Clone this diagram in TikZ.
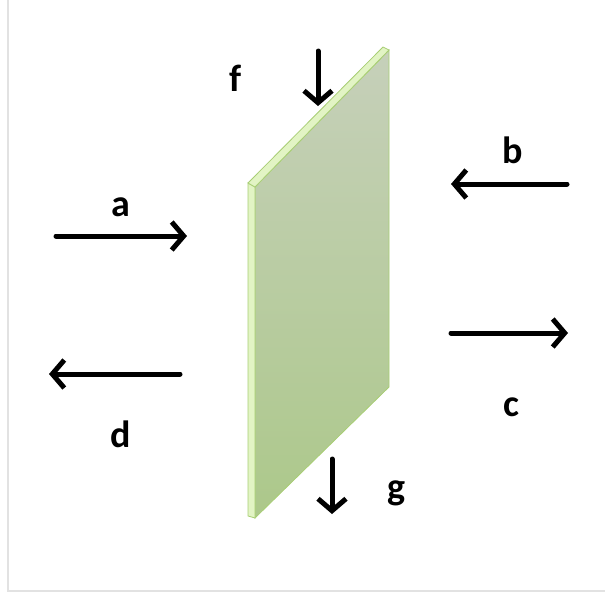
\documentclass[tikz,border=0pt]{standalone}
\usepackage{fontspec}
\setmainfont{Carlito}
\usetikzlibrary{arrows.meta}
\definecolor{PlateTop}{RGB}{198,208,186}
\definecolor{PlateBot}{RGB}{172,200,138}
\definecolor{PlateEdge}{RGB}{226,244,196}
\definecolor{PlateLine}{RGB}{168,206,116}
\definecolor{FrameGray}{RGB}{226,226,226}

\begin{document}
\begin{tikzpicture}[x=1pt,y=-1pt,>={Straight Barb[length=12pt,width=28pt,line width=5pt]}]
        \tikzset{flux/.style={->,line width=5pt,line cap=round,black},
          lbl/.style={font=\fontsize{38}{42}\selectfont\bfseries,inner sep=0pt}}
        \useasboundingbox (0,0) rectangle (605,595);
        \draw[FrameGray,line width=1.2pt] (8,0) -- (8,591) -- (605,591);
        % plate
        \shade[top color=PlateTop,bottom color=PlateBot,draw=PlateLine,line width=0.8pt]
          (255,187) -- (389,50) -- (389,387) -- (255,518) -- cycle;
        \filldraw[fill=PlateEdge,draw=PlateLine,line width=0.8pt]
          (248,183) -- (255,187) -- (255,518) -- (248,516) -- cycle;
        \filldraw[fill=PlateEdge,draw=PlateLine,line width=0.8pt]
          (248,183) -- (383,47) -- (389,50) -- (255,187) -- cycle;
        % ends of the arrows
        \coordinate (a1) at (56,236);  \coordinate (a2) at (187,236);
        \coordinate (b1) at (567,184); \coordinate (b2) at (451,184);
        \coordinate (c1) at (451,333); \coordinate (c2) at (568,333);
        \coordinate (d1) at (180,374); \coordinate (d2) at (49,374);
        \coordinate (f1) at (318,51);  \coordinate (f2) at (318,106);
        \coordinate (g1) at (332,459); \coordinate (g2) at (332,514);
        \draw[flux] (a1) -- (a2);
        \draw[flux] (b1) -- (b2);
        \draw[flux] (c1) -- (c2);
        \draw[flux] (d1) -- (d2);
        \draw[flux] (f1) -- (f2);
        \draw[flux] (g1) -- (g2);
        \node[lbl] (la) at (121,207) {a};
        \node[lbl] (lb) at (513,150) {b};
        \node[lbl] (lc) at (511,407) {c};
        \node[lbl] (ld) at (121,434) {d};
        \node[lbl] (lf) at (236,78) {f};
        \node[lbl] (lg) at (397,493) {g};
      \end{tikzpicture}
\end{document}
